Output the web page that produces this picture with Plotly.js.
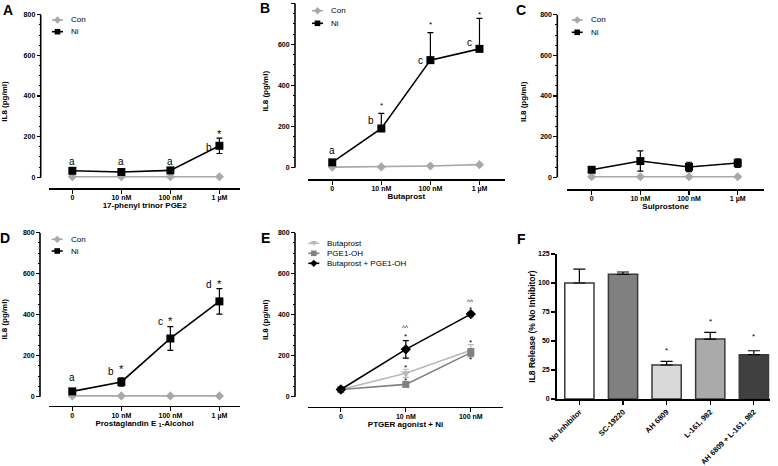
<!DOCTYPE html>
<html>
<head>
<meta charset="utf-8">
<script src="https://cdn.plot.ly/plotly-3.0.1.min.js"></script>
<style>
  html, body { margin: 0; padding: 0; background: #fff; }
  #chart { width: 778px; height: 466px; }
</style>
</head>
<body>
<div id="chart"></div>
<script>
// ---- data ----
const doseCats = ['0', '10 nM', '100 nM', '1 µM'];

// A: 17-phenyl trinor PGE2
const conA = [3, 3, 3, 3];
const niA = [32, 26, 34, 155];
const niErrA = [6, 5, 4, 38];
// B: Butaprost (upper error bars only)
const conB = [2, 3, 7, 14];
const niB = [25, 190, 523, 578];
const niErrB = [5, 74, 134, 149];
// C: Sulprostone
const conC = [3, 3, 3, 3];
const niC = [37, 80, 51, 70];
const niErrC = [6, 50, 23, 21];
// D: PGE1-alcohol
const conD = [4, 4, 4, 4];
const niD = [26, 72, 284, 465];
const niErrD = [5, 20, 58, 62];

// E: agonist combination + Ni
const agonistCats = ['0', '10 nM', '100 nM'];
const butaE = [35, 114, 226];
const butaErrE = [3, 20, 28];
const pgeE = [35, 60, 215];
const pgeErrE = [3, 8, 20];
const comboE = [35, 231, 403];
const comboErrE = [3, 43, 8];

// F: inhibitors, % of no-inhibitor release
const inhibitors = ['No Inhibitor', 'SC-19220', 'AH 6809', 'L-161, 982', 'AH 6809 + L-161, 982'];
const releaseF = [100, 107.5, 29.3, 51.7, 38.2];
const releaseErrF = [12, 2, 3.1, 5.7, 3.4];

// significance marks: [category index, y value, text]
const sigA = [[0, 77, 'a'], [1, 77, 'a'], [2, 77, 'a'], [3, 149, 'b'], [3, 220, '*']];
const sigB = [[0, 82, 'a'], [1, 230, 'b'], [1, 309, '*'], [2, 522, 'c'], [2, 705, '*'], [3, 608, 'c'], [3, 751, '*']];
const sigD = [[0, 93, 'a'], [1, 125, 'b'], [1, 143, '*'], [2, 369, 'c'], [2, 378, '*'], [3, 548, 'd'], [3, 556, '*']];
const sigE = [[1, 336, '^^'], [1, 301, '*'], [1, 150, '*'], [1, 85, '*'], [2, 463, '^^'], [2, 431, '*'], [2, 273, '*'], [2, 187, '*']];
const sigF = [[2, 43, '*'], [3, 68, '*'], [4, 55, '*']];

// ---- layout helpers ----
const W = 778, H = 466;
const px = x => x / W;
const py = y => 1 - y / H;
const FONT = 'Liberation Sans, Arial, sans-serif';
const GRAY = '#a8a8a8';

const layout = {
    width: W, height: H,
    margin: { l: 0, r: 0, t: 0, b: 0 },
    paper_bgcolor: '#fff', plot_bgcolor: 'rgba(0,0,0,0)',
    showlegend: false,
    font: { family: FONT, color: '#000' },
    shapes: [], annotations: []
};
const traces = [];

// panel frames in screen pixels
const panels = [
    { n: 1, letter: 'A', xl: 49.3, xr: 240, axisY: 188.3, top: 14.7, zero: 177.3, yx: 40.7, range: [-0.47, 3.42], title: '17-phenyl trinor PGE2', xStand: 0, yStand: 16 },
    { n: 2, letter: 'B', xl: 307.7, xr: 505, axisY: 179, top: 3.3, zero: 167.5, yx: 295, range: [-0.5, 3.52], title: 'Butaprost', xStand: 1, yStand: 7 },
    { n: 3, letter: 'C', xl: 567.3, xr: 764, axisY: 189, top: 14.7, zero: 177.3, yx: 557.3, range: [-0.5, 3.54], title: 'Sulprostone', xStand: 0, yStand: 11 },
    { n: 4, letter: 'D', xl: 49, xr: 240, axisY: 405.7, top: 232.7, zero: 396.7, yx: 40, range: [-0.475, 3.42], title: 'Prostaglandin E <sub>1</sub>-Alcohol', xStand: 0, yStand: 16 },
    { n: 5, letter: 'E', xl: 307.7, xr: 503.3, axisY: 406.7, top: 232.7, zero: 396.7, yx: 295, range: [-0.51, 2.5], title: 'PTGER agonist + Ni', xStand: 0, yStand: 7 }
];
const letterPos = { A: [8, 10], B: [265, 8], C: [521, 9.5], D: [5, 238], E: [265, 237.5], F: [521, 239] };

const tickFont = { family: FONT, size: 7, color: '#000', weight: 'bold' };
const titleFont = { family: FONT, size: 8, color: '#000', weight: 'bold' };

function doseAxes(p, cats) {
    const yMax = 800;
    const yMin = -(p.axisY - p.zero) / (p.zero - p.top) * yMax;
    const major = [], minor = [];
    for (let v = 0; v <= yMax; v += 50) (v % 200 === 0 ? major : minor).push(v);
    layout['xaxis' + p.n] = {
        domain: [px(p.xl), px(p.xr)], anchor: 'y' + p.n,
        type: 'category', categoryarray: cats, range: p.range,
        showline: true, linewidth: 1.6, linecolor: '#000',
        ticks: 'outside', ticklen: 4, tickwidth: 1.2, tickcolor: '#000', ticklabelstandoff: -2,
        showgrid: false, zeroline: false, tickfont: tickFont,
        title: { text: p.title, font: titleFont, standoff: p.xStand }
    };
    layout['yaxis' + p.n] = {
        domain: [py(p.axisY), py(p.top)], anchor: 'free', position: px(p.yx),
        range: [yMin, yMax], showline: false, showgrid: false, zeroline: false,
        tickmode: 'array', tickvals: major,
        ticks: 'outside', ticklen: 4, tickwidth: 1.2, tickcolor: '#000',
        minor: { tickmode: 'array', tickvals: minor, ticks: 'outside', ticklen: 2, tickwidth: 1, tickcolor: '#000', showgrid: false },
        tickfont: tickFont,
        title: { text: 'IL8 (pg/ml)', font: titleFont, standoff: p.yStand }
    };
    // Prism-style y axis line running only over 0..max
    layout.shapes.push({
        type: 'line', xref: 'paper', yref: 'y' + p.n,
        x0: px(p.yx), x1: px(p.yx), y0: 0, y1: yMax,
        line: { color: '#000', width: 1.6 }
    });
}

function series(n, cats, y, errUp, errDown, color, symbol, size, name) {
    traces.push({
        type: 'scatter', mode: 'lines+markers', name: name,
        x: cats, y: y, xaxis: 'x' + n, yaxis: 'y' + n, cliponaxis: false,
        line: { color: color, width: 1.6 },
        marker: { color: color, symbol: symbol, size: size },
        error_y: errUp ? {
            type: 'data', symmetric: false, array: errUp, arrayminus: errDown,
            color: color, thickness: 1.2, width: 3, visible: true
        } : { visible: false }
    });
}

function symbolPath(sym, cx, cy, r) {
    let pts;
    if (sym === 'square') pts = [[cx - r, cy - r], [cx + r, cy - r], [cx + r, cy + r], [cx - r, cy + r]];
    else if (sym === 'diamond') pts = [[cx, cy - r * 1.3], [cx + r * 1.3, cy], [cx, cy + r * 1.3], [cx - r * 1.3, cy]];
    else pts = [[cx - r * 1.1, cy - r * 0.8], [cx + r * 1.1, cy - r * 0.8], [cx, cy + r]];
    return 'M' + pts.map(q => px(q[0]) + ',' + py(q[1])).join('L') + 'Z';
}

function legendBox(x0, y0, dy, entries) {
    entries.forEach((e, i) => {
        const y = y0 + i * dy;
        layout.shapes.push({ type: 'line', xref: 'paper', yref: 'paper', x0: px(x0), x1: px(x0 + 11), y0: py(y), y1: py(y), line: { color: e.color, width: 1.6 } });
        layout.shapes.push({ type: 'path', xref: 'paper', yref: 'paper', path: symbolPath(e.symbol, x0 + 5.5, y, 2.8), fillcolor: e.color, line: { width: 0 } });
        layout.annotations.push({
            xref: 'paper', yref: 'paper', x: px(x0 + 17), y: py(y), xanchor: 'left', yanchor: 'middle',
            text: e.name, showarrow: false, font: { family: FONT, size: 8, color: 'black' }
        });
    });
}

function sigLabels(n, cats, sig, starSize) {
    sig.forEach(([i, y, t]) => {
        const isMark = t === '*' || t === '^^';
        const besideStar = !isMark && sig.some(s => s[0] === i && s[2] === '*');
        layout.annotations.push({
            xref: 'x' + n, yref: 'y' + n, x: cats[i], y: y, text: t, showarrow: false,
            xshift: besideStar ? -10 : 0, yshift: t === '*' ? -1.5 : 0,
            font: { family: FONT, size: isMark ? (t === '*' ? starSize : 6.5) : 10, color: 'black' }
        });
    });
}

// ---- panels A-D ----
const conNi = [
    { name: 'Con', color: GRAY, symbol: 'diamond' },
    { name: 'Ni', color: '#000', symbol: 'square' }
];
const doseData = [
    [conA, niA, niErrA, niErrA],
    [conB, niB, niErrB, niErrB.map(() => 0)],
    [conC, niC, niErrC, niErrC],
    [conD, niD, niErrD, niErrD]
];
doseData.forEach((d, k) => {
    const p = panels[k];
    doseAxes(p, doseCats);
    series(p.n, doseCats, d[0], null, null, GRAY, 'diamond', 7, 'Con');
    series(p.n, doseCats, d[1], d[2], d[3], '#000', 'square', 8, 'Ni');
});
legendBox(52, 20, 11.7, conNi);
legendBox(312, 10.7, 12.6, conNi);
legendBox(571.7, 20, 12.3, conNi);
legendBox(51.7, 239.3, 11.7, conNi);
sigLabels(1, doseCats, sigA, 11);
sigLabels(2, doseCats, sigB, 8);
sigLabels(4, doseCats, sigD, 11);

// ---- panel E ----
const pE = panels[4];
doseAxes(pE, agonistCats);
series(5, agonistCats, butaE, butaErrE, butaErrE, '#b8b8b8', 'triangle-down', 8, 'Butaprost');
series(5, agonistCats, pgeE, pgeErrE, pgeErrE, '#808080', 'square', 7, 'PGE1-OH');
series(5, agonistCats, comboE, comboErrE, comboErrE, '#000', 'diamond', 8, 'Butaprost + PGE1-OH');
legendBox(308.3, 243.3, 10, [
    { name: 'Butaprost', color: '#b8b8b8', symbol: 'triangle' },
    { name: 'PGE1-OH', color: '#808080', symbol: 'square' },
    { name: 'Butaprost + PGE1-OH', color: '#000', symbol: 'diamond' }
]);
sigLabels(5, agonistCats, sigE, 8);

// ---- panel F ----
layout.xaxis6 = {
    domain: [px(556.7), px(770)], anchor: 'y6', type: 'category', range: [-0.52, 4.37],
    showline: true, linewidth: 1.6, linecolor: '#000',
    ticks: 'outside', ticklen: 4, tickwidth: 1.2, tickcolor: '#000',
    tickangle: -45, tickfont: { family: FONT, size: 7.5, color: '#000', weight: 'bold' },
    showgrid: false, zeroline: false
};
layout.yaxis6 = {
    domain: [py(399), py(254)], anchor: 'x6', range: [0, 125],
    showline: true, linewidth: 1.6, linecolor: '#000',
    tickmode: 'array', tickvals: [0, 25, 50, 75, 100, 125],
    ticks: 'outside', ticklen: 4, tickwidth: 1.2, tickcolor: '#000',
    showgrid: false, zeroline: false, tickfont: tickFont,
    title: { text: 'IL8 Release (% No Inhibitor)', font: { family: FONT, size: 8.5, color: '#000', weight: 'bold' }, standoff: 1 }
};
traces.push({
    type: 'bar', x: inhibitors, y: releaseF, xaxis: 'x6', yaxis: 'y6', width: 0.67,
    marker: { color: ['#ffffff', '#808080', '#d9d9d9', '#aaaaaa', '#404040'], line: { color: '#3a3a3a', width: 1.5 } },
    error_y: { type: 'data', symmetric: false, array: releaseErrF, arrayminus: releaseErrF.map(() => 0), color: '#000', thickness: 1.2, width: 6, visible: true }
});
sigLabels(6, inhibitors, sigF, 8);

// panel letters
Object.keys(letterPos).forEach(k => {
    layout.annotations.push({
        xref: 'paper', yref: 'paper', x: px(letterPos[k][0]), y: py(letterPos[k][1]),
        xanchor: 'center', yanchor: 'middle', text: k, showarrow: false,
        font: { family: FONT, size: 14, color: '#000', weight: 'bold' }
    });
});

Plotly.newPlot('chart', traces, layout, { displayModeBar: false, staticPlot: true });
</script>
</body>
</html>
